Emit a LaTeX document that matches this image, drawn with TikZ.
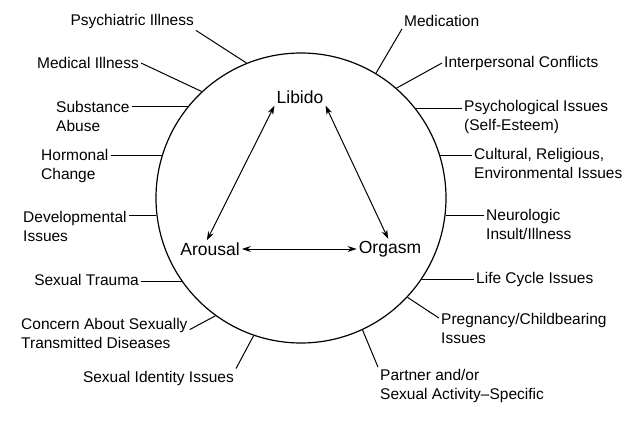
\documentclass[tikz,border=0pt]{standalone}
\usepackage{fontspec}
\setmainfont{Liberation Sans}
\usetikzlibrary{arrows.meta, calc, positioning}

\begin{document}
\begin{tikzpicture}[x=1pt,y=-1pt]
  \tikzset{lbl/.style={inner sep=2pt, font=\fontsize{15.5}{19}\selectfont, align=left}};
  \tikzset{core/.style={inner sep=2pt, font=\fontsize{17.5}{21}\selectfont}};
  \tikzset{spoke/.style={line width=1pt}};
  \tikzset{rel/.style={line width=1pt, {Stealth[length=9pt,width=6pt]}-{Stealth[length=9pt,width=6pt]}}};

  \useasboundingbox (0,0) rectangle (625,426);

  \node[circle, draw, line width=1.2pt, minimum size=290pt, inner sep=0pt] (circ) at (301,198) {};

  \node[core] (lib) at (300,97) {Libido};
  \node[core] (aro) at (210,249) {Arousal};
  \node[core] (org) at (390,249) {Orgasm};

  \draw[rel] (lib.south west) -- (aro.110);
  \draw[rel] (lib.south east) -- (org.100);
  \draw[rel] (aro.east) -- (org.west);

  % left side
  \node[lbl, anchor=east] (psy) at (196,21) {Psychiatric Illness};
  \node[lbl, anchor=east] (med) at (141,63) {Medical Illness};
  \node[lbl, anchor=west] (sub) at (54,116.5) {Substance\\Abuse};
  \node[lbl, anchor=west] (hor) at (39,165.5) {Hormonal\\Change};
  \node[lbl, anchor=west] (dev) at (21,226) {Developmental\\Issues};
  \node[lbl, anchor=east] (trau) at (141,280) {Sexual Trauma};
  \node[lbl, anchor=west] (con) at (19,333) {Concern About Sexually\\Transmitted Diseases};
  \node[lbl, anchor=east] (ident) at (236,378) {Sexual Identity Issues};

  % right side
  \node[lbl, anchor=west] (medic) at (402,21) {Medication};
  \node[lbl, anchor=west] (inter) at (442,63) {Interpersonal Conflicts};
  \node[lbl, anchor=west] (psyc) at (462,117) {Psychological Issues\\(Self-Esteem)};
  \node[lbl, anchor=west] (cult) at (472,163.5) {Cultural, Religious,\\Environmental Issues};
  \node[lbl, anchor=west] (neur) at (484,224.5) {Neurologic\\Insult/Illness};
  \node[lbl, anchor=west] (life) at (474,279) {Life Cycle Issues};
  \node[lbl, anchor=west] (preg) at (439,328.5) {Pregnancy/Childbearing\\Issues};
  \node[lbl, anchor=west] (part) at (378,386) {Partner and/or\\Sexual Activity--Specific};

  \draw[spoke] (circ.112) -- (psy.south east);
  \draw[spoke] (circ.133) -- (med.east);
  \draw[spoke] (circ.141) -- (sub.east |- circ.141);
  \draw[spoke] (circ.163) -- (hor.east |- circ.163);
  \draw[spoke] (circ.187.5) -- (dev.east |- circ.187.5);
  \draw[spoke] (circ.215) -- (trau.east |- circ.215);
  \draw[spoke] (circ.234) -- ([yshift=-14pt]con.north east);
  \draw[spoke] (circ.251) -- (ident.north east);

  \draw[spoke] (circ.59) -- (medic.south west);
  \draw[spoke] (circ.49) -- (inter.west);
  \draw[spoke] (circ.38) -- (psyc.west |- circ.38);
  \draw[spoke] (circ.17) -- (cult.west |- circ.17);
  \draw[spoke] (circ.-7.5) -- (neur.west |- circ.-7.5);
  \draw[spoke] (circ.-34) -- (life.west |- circ.-34);
  \draw[spoke] (circ.-43) -- ([yshift=-7pt]preg.north west);
  \draw[spoke] (circ.-65.5) -- (part.north west);

\end{tikzpicture}
\end{document}
